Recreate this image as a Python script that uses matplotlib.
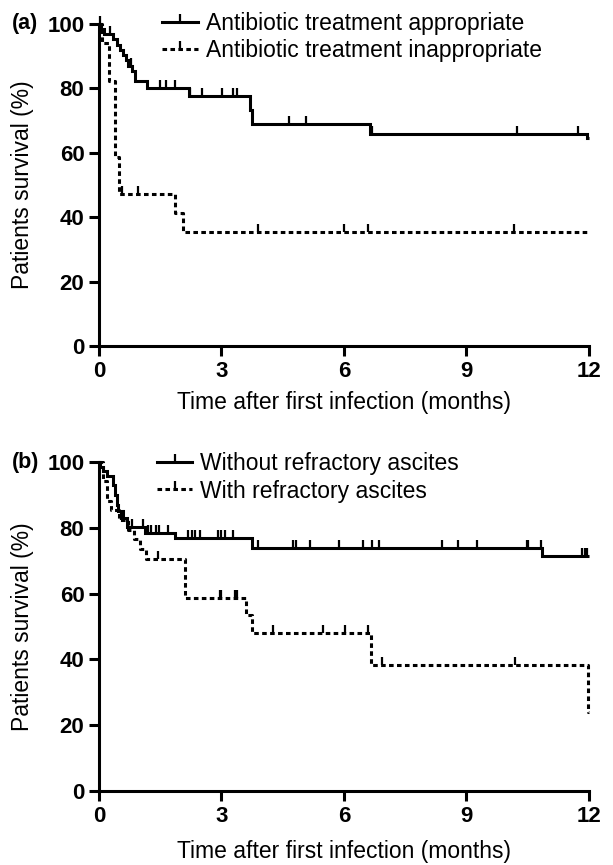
import numpy as np
import matplotlib
matplotlib.use("Agg")
import matplotlib.pyplot as plt
from matplotlib.lines import Line2D

plt.rcParams["font.family"] = ["Liberation Sans", "DejaVu Sans"]

# panel (a): antibiotic treatment
appr_t = [0, 0.05, 0.12, 0.35, 0.45, 0.52, 0.6, 0.66, 0.72, 0.8, 0.88, 1.17, 2.2, 3.7, 3.76, 6.65, 11.95]
appr_s = [100, 98.4, 96.8, 95.2, 93.5, 91.9, 90.3, 88.7, 87.1, 85.5, 82.3, 80.0, 77.7, 73.3, 68.9, 65.7, 64.5]
appr_cens = [0.02, 0.28, 0.78, 1.49, 1.63, 1.86, 2.23, 2.53, 3.02, 3.29, 3.37, 4.65, 5.07, 6.7, 10.24, 11.74]

inap_t = [0, 0.08, 0.25, 0.38, 0.5, 1.85, 2.07]
inap_s = [100, 94.1, 82.4, 58.8, 47.1, 41.2, 35.3]
inap_cens = [0.56, 0.96, 3.9, 6.0, 6.6, 10.17]

# panel (b): refractory ascites
nora_t = [0, 0.03, 0.1, 0.2, 0.35, 0.39, 0.43, 0.47, 0.6, 0.68, 1.12, 1.86, 3.74, 10.85]
nora_s = [100, 98.6, 97.2, 95.8, 92.9, 90.0, 87.1, 85.1, 83.1, 80.4, 78.4, 76.9, 73.8, 71.6]
nora_cens = [0.8, 1.08, 1.2, 1.28, 1.4, 1.48, 1.68, 2.19, 2.27, 2.35, 2.47, 2.91, 3.0, 3.08,
             3.28, 3.9, 4.75, 4.83, 5.17, 5.87, 6.48, 6.68, 6.85, 8.4, 8.8, 9.26, 10.48,
             10.52, 10.83, 11.83, 11.9, 11.96]

ra_t = [0, 0.1, 0.2, 0.3, 0.5, 0.7, 0.85, 1.0, 1.15, 2.1, 3.6, 3.76, 6.66, 11.98]
ra_s = [100, 94.1, 88.2, 85.3, 82.4, 79.4, 76.5, 73.5, 70.6, 58.8, 53.5, 48.0, 38.3, 23.9]
ra_cens = [0.55, 1.45, 2.96, 3.0, 3.33, 3.39, 4.26, 5.48, 6.03, 6.6, 6.94, 10.19]

x_ticks = [0, 3, 6, 9, 12]
y_ticks = [0, 20, 40, 60, 80, 100]
T_END = 12.0

LW = 2.2
DASH = (0, (1.5, 1.1))


def km_curve(ax, t, s, cens, ls):
    tt = np.asarray(t + [T_END], dtype=float)
    ss = np.asarray(s + [s[-1]], dtype=float)
    ax.step(tt, ss, where="post", color="black", lw=LW, ls=ls, clip_on=False,
            solid_joinstyle="miter", solid_capstyle="butt", dash_capstyle="butt")
    c = np.asarray(cens, dtype=float)
    idx = np.searchsorted(np.asarray(t, dtype=float), c, side="right") - 1
    cy = np.asarray(s, dtype=float)[idx]
    ax.plot(c, cy, ls="none", marker=2, ms=6, mew=1.6, color="black", clip_on=False)


def style_axes(ax, tag, xlab_y):
    ax.set_xlim(0, 12)
    ax.set_ylim(0, 100)
    ax.set_xticks(x_ticks)
    ax.set_yticks(y_ticks)
    for side in ("top", "right"):
        ax.spines[side].set_visible(False)
    for side in ("left", "bottom"):
        ax.spines[side].set_linewidth(2.2)
    ax.tick_params(width=2.2, length=7.5, direction="out", labelsize=16, pad=3)
    for lab in ax.get_xticklabels() + ax.get_yticklabels():
        lab.set_fontweight("bold")
    ax.set_xlabel("Time after first infection (months)", fontsize=16.5)
    ax.xaxis.set_label_coords(0.5, xlab_y)
    ax.set_ylabel("Patients survival (%)", fontsize=16.5, va="center")
    ax.yaxis.set_label_coords(-0.157, 0.5)
    ax.text(-0.178, 1.0, tag, transform=ax.transAxes, fontsize=15.5, fontweight="bold",
            ha="left", va="center")


def legend(ax, labels, anchor):
    handles = [
        Line2D([], [], color="black", lw=LW, marker=2, ms=6, mew=1.6),
        Line2D([], [], color="black", lw=LW, ls=DASH, marker=2, ms=6, mew=1.6),
    ]
    ax.legend(handles, labels, loc="center left", bbox_to_anchor=anchor, frameon=False,
              fontsize=16.5, handlelength=1.55, handletextpad=0.35, borderpad=0,
              borderaxespad=0, labelspacing=0.2, numpoints=1)


fig = plt.figure(figsize=(6.13, 8.65), dpi=100)
ax_a = fig.add_axes([0.1615, 0.600, 0.799, 0.3723])
ax_b = fig.add_axes([0.1615, 0.0855, 0.799, 0.3803])

km_curve(ax_a, appr_t, appr_s, appr_cens, "-")
km_curve(ax_a, inap_t, inap_s, inap_cens, DASH)
style_axes(ax_a, "(a)", -0.14)
legend(ax_a, ["Antibiotic treatment appropriate", "Antibiotic treatment inappropriate"], (0.129, 0.96))

km_curve(ax_b, nora_t, nora_s, nora_cens, "-")
km_curve(ax_b, ra_t, ra_s, ra_cens, DASH)
style_axes(ax_b, "(b)", -0.15)
legend(ax_b, ["Without refractory ascites", "With refractory ascites"], (0.118, 0.954))

fig.savefig("out.png", dpi=100)
